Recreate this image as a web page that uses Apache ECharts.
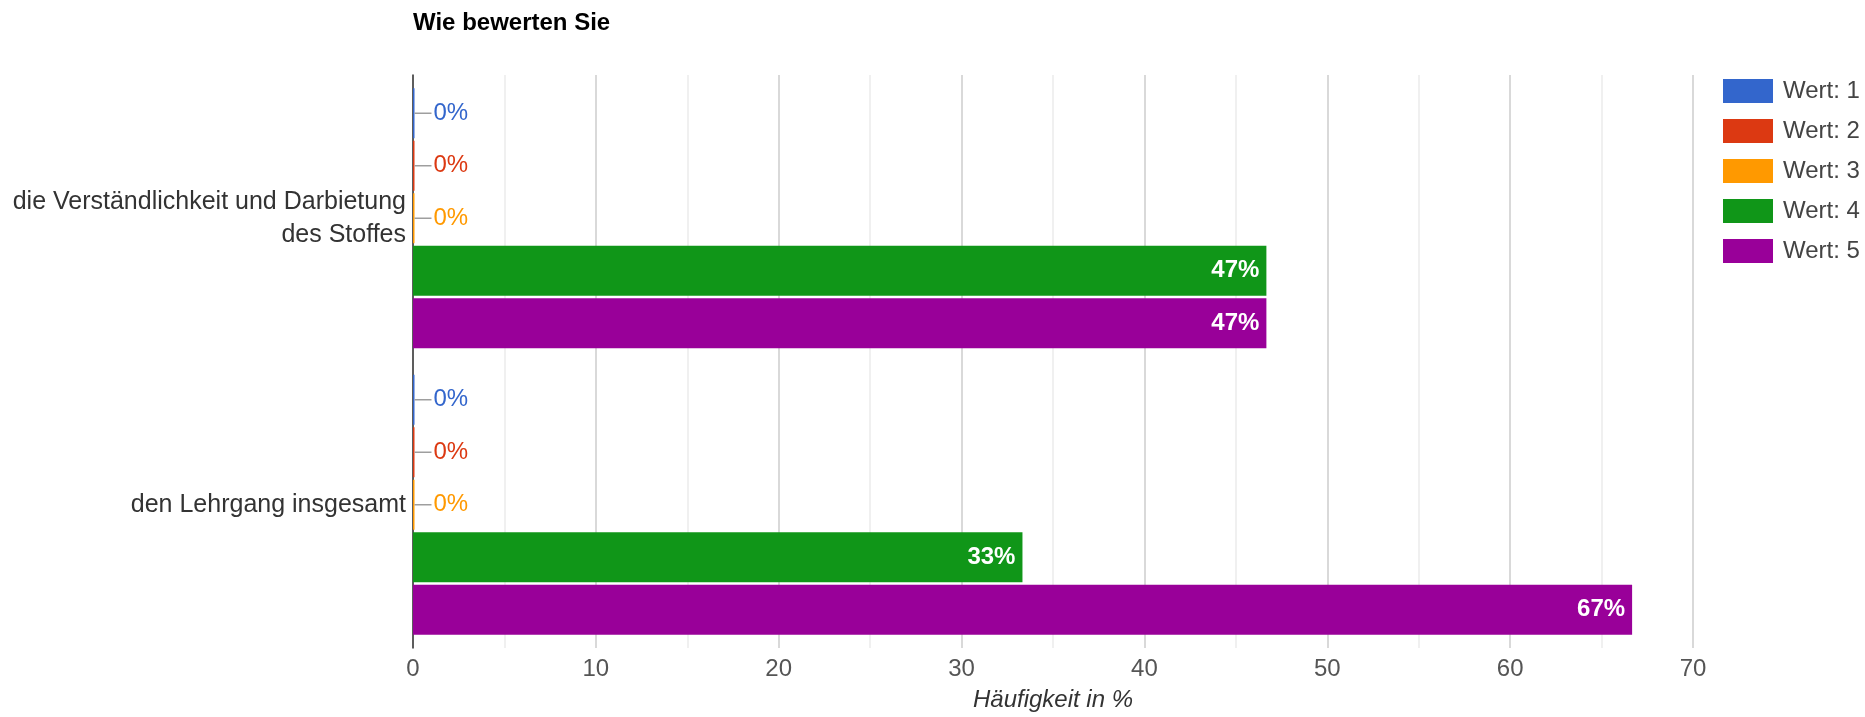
<!DOCTYPE html>
<html>
<head>
<meta charset="utf-8">
<script src="https://cdn.jsdelivr.net/npm/echarts@6/dist/echarts.min.js"></script>
<style>
html,body{margin:0;padding:0;background:#fff;}
#chart{width:1865px;height:717px;}
</style>
</head>
<body>
<div id="chart"></div>
<script>
const chartTitle = 'Wie bewerten Sie';
const categories = ['die Verständlichkeit und Darbietung\ndes Stoffes', 'den Lehrgang insgesamt'];
const seriesNames = ['Wert: 1', 'Wert: 2', 'Wert: 3', 'Wert: 4', 'Wert: 5'];
const wert1 = [0, 0];
const wert2 = [0, 0];
const wert3 = [0, 0];
const wert4 = [46.67, 33.33];
const wert5 = [46.67, 66.67];
const xAxisName = 'Häufigkeit in %';
const xMin = 0, xMax = 70, xInterval = 10;

const colors = ['#3366cc', '#dc3912', '#ff9900', '#109618', '#990099'];
const FONT = 'Arial, "Liberation Sans", sans-serif';
const allValues = [wert1, wert2, wert3, wert4, wert5];

function pct(v) { return Math.round(v) + '%'; }

const series = allValues.map(function (vals, si) {
  return {
    name: seriesNames[si],
    type: 'bar',
    barWidth: 50,
    barGap: '5%',
    barMinHeight: 1.5,
    itemStyle: { color: colors[si] },
    data: vals.map(function (v) {
      if (v === 0) {
        return {
          value: v,
          label: {
            show: true,
            position: 'right',
            distance: 0,
            formatter: function (p) { return '{s| }{v|' + pct(p.value) + '}'; },
            rich: {
              s: { width: 17, height: 1.5, backgroundColor: '#9e9e9e', verticalAlign: 'middle', fontSize: 24 },
              v: { color: colors[si], fontSize: 24, fontFamily: FONT, padding: [0, 0, 0, 2] }
            }
          }
        };
      }
      return {
        value: v,
        label: {
          show: true,
          position: 'insideRight',
          distance: 7,
          color: '#ffffff',
          fontSize: 24,
          fontWeight: 'bold',
          fontFamily: FONT,
          formatter: function (p) { return pct(p.value); }
        }
      };
    })
  };
});

const chart = echarts.init(document.getElementById('chart'), null, { renderer: 'canvas' });
chart.setOption({
  animation: false,
  backgroundColor: '#ffffff',
  title: {
    text: chartTitle,
    left: 408,
    top: 6,
    textStyle: { fontFamily: FONT, fontSize: 24, fontWeight: 'bold', color: '#000000' }
  },
  legend: {
    orient: 'vertical',
    left: 1718,
    top: 74,
    itemWidth: 50,
    itemHeight: 24,
    itemGap: 16,
    icon: 'rect',
    data: seriesNames,
    textStyle: { fontFamily: FONT, fontSize: 24, color: '#444444', padding: [0, 0, 0, 5] }
  },
  grid: { left: 413, right: 172, top: 75, bottom: 54, containLabel: false },
  xAxis: {
    type: 'value',
    min: xMin,
    max: xMax,
    interval: xInterval,
    name: xAxisName,
    nameLocation: 'middle',
    nameGap: 40,
    nameTextStyle: { fontFamily: FONT, fontSize: 24, fontStyle: 'italic', color: '#333333' },
    axisLine: { show: false },
    axisTick: { show: false },
    axisLabel: { fontFamily: FONT, fontSize: 24, color: '#555555', margin: 9 },
    splitLine: { show: true, lineStyle: { color: '#cccccc', width: 1.5 } },
    minorTick: { show: false, splitNumber: 2 },
    minorSplitLine: { show: true, lineStyle: { color: '#ebebeb', width: 1.5 } }
  },
  yAxis: {
    type: 'category',
    data: categories,
    inverse: true,
    axisLine: { show: true, lineStyle: { color: '#333333', width: 1.5 } },
    axisTick: { show: false },
    axisLabel: { fontFamily: FONT, fontSize: 25, color: '#333333', margin: 7, lineHeight: 33, align: 'right', padding: [6, 0, 0, 0] },
    splitLine: { show: false }
  },
  series: series
});
</script>
</body>
</html>
